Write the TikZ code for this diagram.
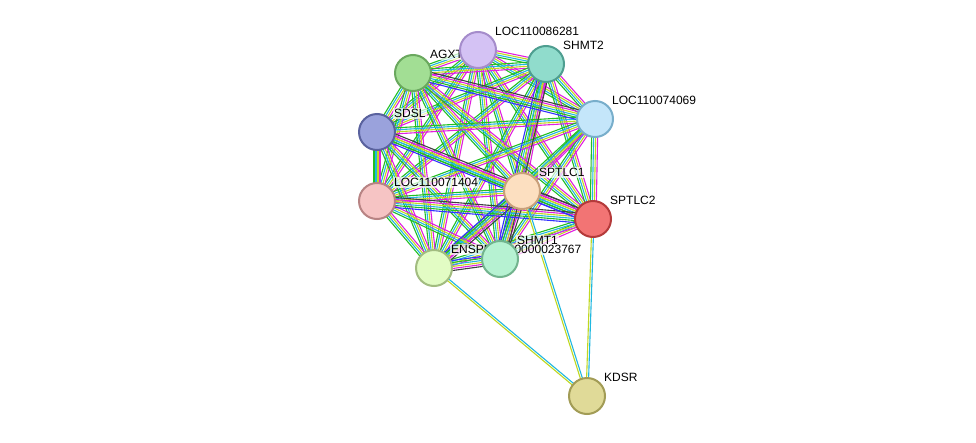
\documentclass[tikz,border=0pt]{standalone}
\usepackage{fontspec}
\setmainfont{Liberation Sans}
\usetikzlibrary{calc}
\definecolor{egreen}{HTML}{22C022}
\definecolor{ecyan}{HTML}{20B8E0}
\definecolor{emag}{HTML}{E020E0}
\definecolor{eyel}{HTML}{C0D820}
\definecolor{eblk}{HTML}{404040}
\definecolor{fa}{HTML}{D4C2F4}\definecolor{da}{HTML}{A58CCB}
\definecolor{fb}{HTML}{90DCCC}\definecolor{db}{HTML}{4E9E90}
\definecolor{fc}{HTML}{A2DE94}\definecolor{dc}{HTML}{6AA85E}
\definecolor{fd}{HTML}{C4E6FA}\definecolor{dd}{HTML}{78AECB}
\definecolor{fe}{HTML}{9AA2DC}\definecolor{de}{HTML}{5A629E}
\definecolor{ff}{HTML}{FCDFC0}\definecolor{df}{HTML}{C8A07A}
\definecolor{fg}{HTML}{F6C4C4}\definecolor{dg}{HTML}{B88484}
\definecolor{fh}{HTML}{F27474}\definecolor{dh}{HTML}{B43A3A}
\definecolor{fi}{HTML}{B6F2D2}\definecolor{di}{HTML}{72B48E}
\definecolor{fj}{HTML}{E2FCC4}\definecolor{dj}{HTML}{A2BC80}
\definecolor{fk}{HTML}{E0DA98}\definecolor{dk}{HTML}{A29C56}
\tikzset{
  prot/.style={circle, minimum size=36pt, inner sep=0pt, line width=2pt},
  plabel/.style={anchor=south west, inner sep=1pt, fill=white, fill opacity=0.7, text opacity=1, font=\fontsize{12}{14}\selectfont},
  edge/.style={line width=1.1pt}
}
\begin{document}
\begin{tikzpicture}[x=1pt,y=-1pt]
    \useasboundingbox[fill=white] (0,0) rectangle (976,442);

    % protein positions
    \coordinate (c1) at (478,50);
    \coordinate (c2) at (546,64);
    \coordinate (c3) at (413,73);
    \coordinate (c4) at (595,119);
    \coordinate (c5) at (377,132);
    \coordinate (c6) at (522,191);
    \coordinate (c7) at (377,201);
    \coordinate (c8) at (593,219);
    \coordinate (c9) at (500,259);
    \coordinate (c10) at (434,268);
    \coordinate (kdsr) at (587,396);

    % evidence lines within the cluster
    \foreach \i in {1,...,10} {
        \foreach \j in {1,...,10} {
            \ifnum\i<\j
                \foreach \off/\col in {-3/egreen,-1/ecyan,1/eyel,3/emag} {
                    \draw[edge, \col] ($(c\i)!\off pt!90:(c\j)$) -- ($(c\j)!\off pt!-90:(c\i)$);
                }
            \fi
        }
    }
    % extra lines on a few strong pairs
    \foreach \a/\b in {6/10,9/10,6/9,2/9,3/4,5/8,7/8,6/8} {
        \draw[edge, eblk] ($(c\a)!5pt!90:(c\b)$) -- ($(c\b)!5pt!-90:(c\a)$);
        \draw[edge, blue!80] ($(c\a)!-5pt!90:(c\b)$) -- ($(c\b)!-5pt!-90:(c\a)$);
    }
    % KDSR lines
    \foreach \k in {6,8,10} {
        \draw[edge, eyel] ($(kdsr)!1pt!90:(c\k)$) -- ($(c\k)!1pt!-90:(kdsr)$);
        \draw[edge, ecyan] ($(kdsr)!-1pt!90:(c\k)$) -- ($(c\k)!-1pt!-90:(kdsr)$);
    }

    % labels
    \node[plabel] at ($(c1)+(16,-13)$) {LOC110086281};
    \node[plabel] at ($(c2)+(16,-13)$) {SHMT2};
    \node[plabel] at ($(c3)+(16,-13)$) {AGXT};
    \node[plabel] at ($(c4)+(16,-13)$) {LOC110074069};
    \node[plabel] at ($(c5)+(16,-13)$) {SDSL};
    \node[plabel] at ($(c6)+(16,-13)$) {SPTLC1};
    \node[plabel] at ($(c7)+(16,-13)$) {LOC110071404};
    \node[plabel] at ($(c8)+(16,-13)$) {SPTLC2};
    \node[plabel] at ($(c9)+(16,-13)$) {SHMT1};
    \node[plabel] at ($(c10)+(16,-13)$) {ENSPPYP00000023767};
    \node[plabel] at ($(kdsr)+(16,-13)$) {KDSR};

    % proteins
    \node[prot, fill=fa, draw=da] (loc86281) at (c1) {};
    \node[prot, fill=fb, draw=db] (shmt2) at (c2) {};
    \node[prot, fill=fc, draw=dc] (agxt) at (c3) {};
    \node[prot, fill=fd, draw=dd] (loc74069) at (c4) {};
    \node[prot, fill=fe, draw=de] (sdsl) at (c5) {};
    \node[prot, fill=ff, draw=df] (sptlc1) at (c6) {};
    \node[prot, fill=fg, draw=dg] (loc71404) at (c7) {};
    \node[prot, fill=fh, draw=dh] (sptlc2) at (c8) {};
    \node[prot, fill=fi, draw=di] (shmt1) at (c9) {};
    \node[prot, fill=fj, draw=dj] (ensp) at (c10) {};
    \node[prot, fill=fk, draw=dk] (kdsrnode) at (kdsr) {};
\end{tikzpicture}
\end{document}
